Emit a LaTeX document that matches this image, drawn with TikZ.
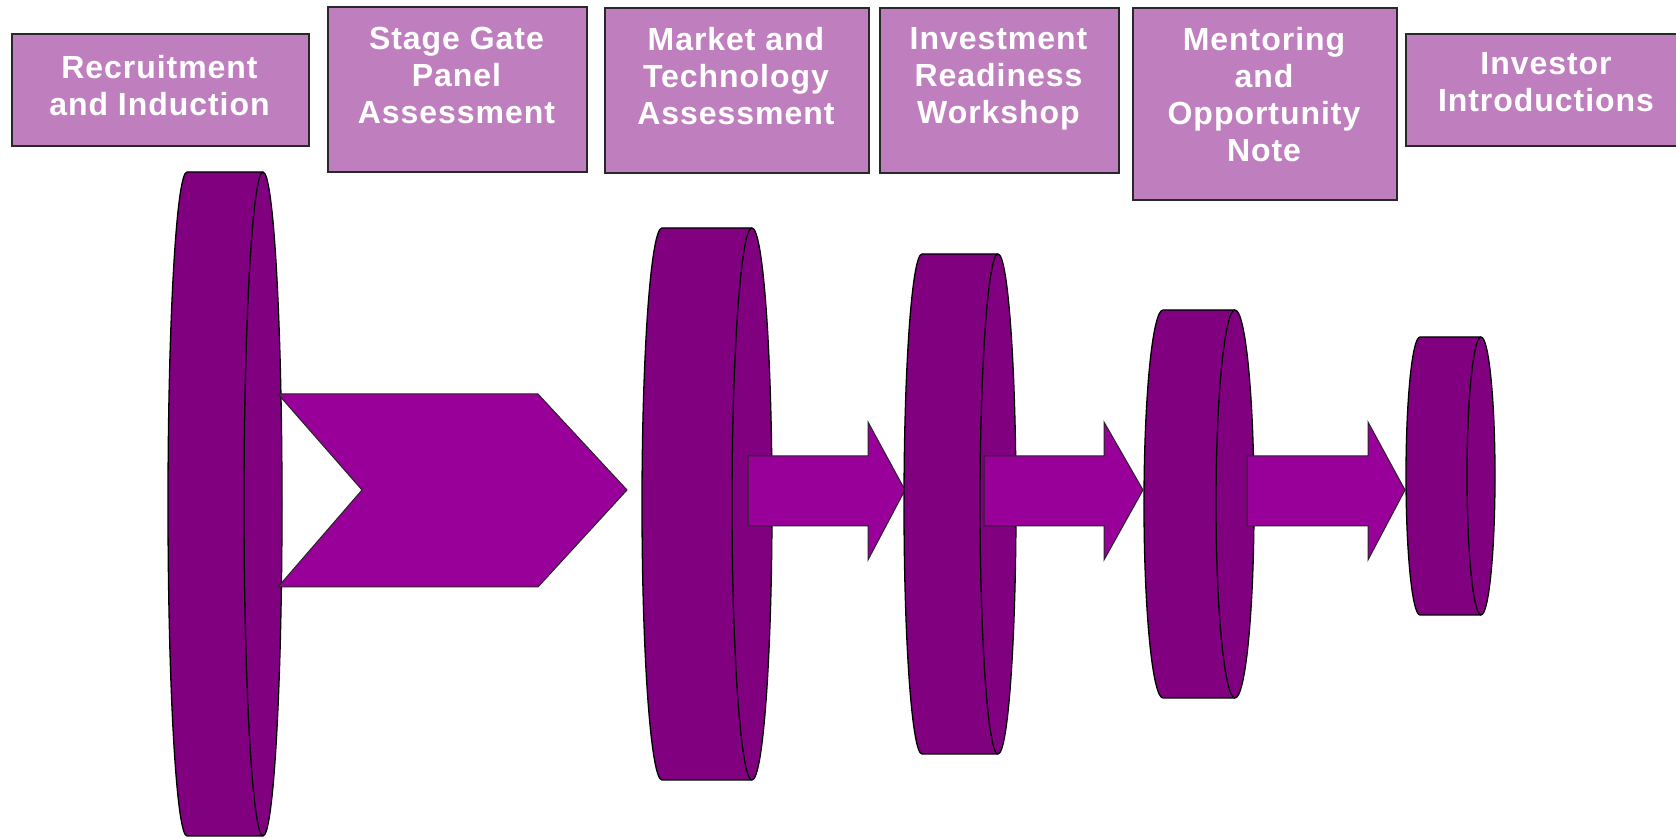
\documentclass[tikz,border=0pt]{standalone}
\usepackage{fontspec}
\setmainfont{Liberation Sans}
\definecolor{boxfill}{RGB}{191,127,191}
\definecolor{discfill}{RGB}{128,0,128}
\definecolor{arrowfill}{RGB}{153,0,153}
\definecolor{boxline}{RGB}{40,40,40}
\tikzset{
  stagebox/.style={draw=boxline, line width=1.6pt, fill=boxfill, inner sep=0pt, anchor=north west},
  stagetext/.style={text=white, font=\fontsize{32}{37}\selectfont\bfseries\addfontfeatures{LetterSpace=3}, align=center, anchor=north, inner sep=0pt},
  discshape/.style={fill=discfill, draw=black, line width=1.3pt},
  discline/.style={draw=black, line width=1.3pt},
  flowarrow/.style={fill=arrowfill, draw=black!85, line width=1pt, line join=miter},
}
% name, back centre x, front centre x, x radius, centre y, y radius
\newcommand{\drawdisc}[6]{%
  \path[discshape] (#2,#5+#6) -- (#3,#5+#6)
     arc[start angle=90,end angle=-90,x radius=#4,y radius=#6]
     -- (#2,#5-#6)
     arc[start angle=270,end angle=90,x radius=#4,y radius=#6] -- cycle;
  \draw[discline] (#3,#5+#6) arc[start angle=90,end angle=270,x radius=#4,y radius=#6];
  \coordinate (#1) at (#3,#5);
}
\begin{document}
\begin{tikzpicture}[x=1pt,y=1pt]
\useasboundingbox (0,0) rectangle (1676,838);
\fill[white] (0,0) rectangle (1676,838);

% top boxes
\node[stagebox, minimum width=297pt, minimum height=112pt] (b1) at (11,805) {};
\node[stagebox, minimum width=259pt, minimum height=165pt] (b2) at (327,832) {};
\node[stagebox, minimum width=264pt, minimum height=165pt] (b3) at (604,831) {};
\node[stagebox, minimum width=239pt, minimum height=165pt] (b4) at (879,831) {};
\node[stagebox, minimum width=264pt, minimum height=192pt] (b5) at (1132,831) {};
\node[stagebox, minimum width=283pt, minimum height=112pt] (b6) at (1405,805) {};

\node[stagetext] (t1) at (159.5,783) {Recruitment\\and Induction};
\node[stagetext] (t2) at (456.5,811) {Stage Gate\\Panel\\Assessment};
\node[stagetext] (t3) at (736,811) {Market and\\Technology\\Assessment};
\node[stagetext] (t4) at (998.5,811) {Investment\\Readiness\\Workshop};
\node[stagetext] (t5) at (1264,811) {Mentoring\\and\\Opportunity\\Note};
\node[stagetext] (t6) at (1546,786) {Investor\\Introductions};

% discs and arrows
\drawdisc{d1}{187}{263}{19}{334}{332}
\draw[flowarrow] (278,444) -- (538,444) -- (627,348) -- (538,251) -- (278,251) -- (362,348) -- cycle;
\drawdisc{d2}{662}{752}{20}{334}{276}
\draw[flowarrow] (748,382) -- (868,382) -- (868,416) -- (905,348) -- (868,278) -- (868,312) -- (748,312) -- cycle;
\drawdisc{d3}{922}{998}{18}{334}{250}
\draw[flowarrow] (984,382) -- (1104,382) -- (1104,416) -- (1143,348) -- (1104,278) -- (1104,312) -- (984,312) -- cycle;
\drawdisc{d4}{1163}{1235}{19}{334}{194}
\draw[flowarrow] (1247,382) -- (1368,382) -- (1368,416) -- (1405,348) -- (1368,278) -- (1368,312) -- (1247,312) -- cycle;
\drawdisc{d5}{1420}{1481}{14}{362}{139}
\end{tikzpicture}
\end{document}
